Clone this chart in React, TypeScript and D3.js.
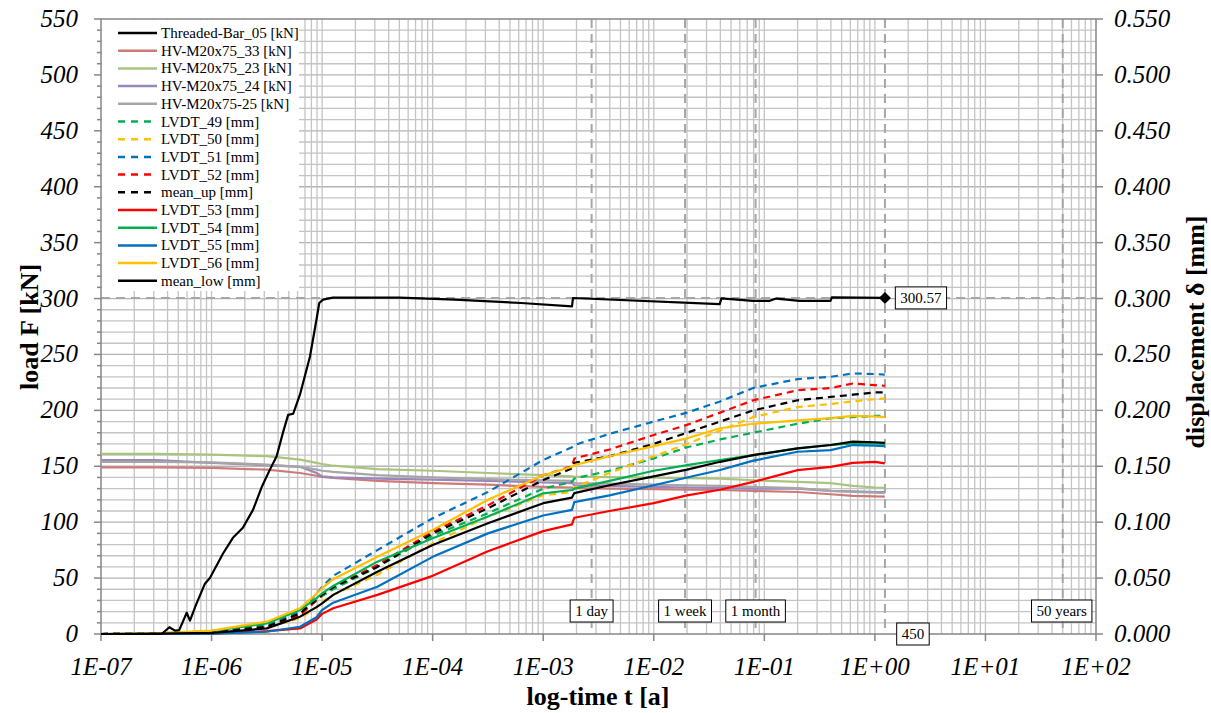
import React, { useEffect, useRef } from 'react'
import * as d3 from 'd3'

const W = 1211
const H = 713
const margin = { top: 19, right: 115, bottom: 79, left: 101 }
const FONT = "'Liberation Serif', 'Times New Roman', Times, 'DejaVu Serif', serif"

// shared time grid [a]
const T = [1e-7, 3.16e-7, 1e-6, 3.16e-6, 6.31e-6, 8.91e-6, 1e-5, 1.26e-5, 3.16e-5, 1e-4, 3.16e-4, 1e-3,
  1.82e-3, 1.91e-3, 3.98e-3, 1e-2, 2e-2, 3.98e-2, 7.94e-2, 0.2, 0.398, 0.631, 1.0, 1.23]

// load of threaded bar [kN]
const BAR_T = [1e-7, 3.54e-7, 4.15e-7, 4.67e-7, 5.1e-7, 5.96e-7, 6.38e-7, 7.23e-7, 8.71e-7, 9.66e-7, 1.27e-6,
  1.56e-6, 1.92e-6, 2.37e-6, 2.83e-6, 3.37e-6, 3.88e-6, 4.45e-6, 4.93e-6, 5.48e-6, 6.3e-6, 7.76e-6, 8.89e-6,
  9.42e-6, 1.02e-5, 1.25e-5, 5.0e-5, 1.58e-4, 6.3e-4, 1.82e-3, 1.86e-3, 0.0395, 0.0409, 0.0785, 0.112, 0.128,
  0.209, 0.398, 0.407, 1.23]
const BAR_F = [0, 0, 6, 3, 3.5, 19, 12, 26, 45, 50, 72, 86, 95, 111, 131, 147, 159, 181, 196, 197, 214, 248, 281,
  296, 299, 300.8, 300.8, 299, 296, 293, 300.5, 295, 300.2, 298, 298, 300, 298, 298, 301, 300.57]

// bolt loads [kN]
const HV_33 = [149, 149, 148.5, 147, 144, 141.5, 140.5, 139.5, 137, 135, 133.5, 131.5, 131, 130.5, 130, 129.5, 129, 128.8, 128, 127, 125, 123.5, 123, 122.8]
const HV_23 = [161, 161, 160.5, 159, 156, 153, 152, 150.5, 147.5, 146, 144, 142, 141, 140.8, 140.3, 139.8, 139.4, 139, 137.5, 136, 135, 132.5, 131, 130.8]
const HV_24 = [155.5, 155.5, 153, 151, 149.5, 144, 141, 140, 139, 138, 137, 135.5, 135, 133, 132.5, 131.5, 131, 130.5, 130, 130, 128, 127.5, 127, 127]
const HV_25 = [154, 154, 153.5, 151.5, 149.5, 147, 146, 145, 142, 140, 138.5, 137.5, 137, 135, 134.5, 133.5, 133, 132.5, 131.5, 130.5, 128, 127, 126.5, 126]

// displacements [mm]
const LVDT_49 = [0, 0.0003, 0.002, 0.008, 0.018, 0.030, 0.034, 0.040, 0.060, 0.088, 0.108, 0.130, 0.136, 0.139, 0.146, 0.157, 0.167, 0.174, 0.180, 0.188, 0.193, 0.194, 0.195, 0.195]
const LVDT_50 = [0, 0.0003, 0.0015, 0.006, 0.014, 0.024, 0.029, 0.035, 0.053, 0.081, 0.105, 0.124, 0.127, 0.131, 0.144, 0.159, 0.170, 0.182, 0.194, 0.203, 0.2057, 0.208, 0.210, 0.2107]
const LVDT_51 = [0, 0.0005, 0.002, 0.009, 0.020, 0.036, 0.042, 0.052, 0.075, 0.1035, 0.127, 0.1556, 0.167, 0.169, 0.179, 0.190, 0.198, 0.208, 0.220, 0.228, 0.230, 0.233, 0.2325, 0.232]
const LVDT_52 = [0, 0.0003, 0.0015, 0.006, 0.017, 0.030, 0.035, 0.042, 0.0617, 0.0915, 0.115, 0.142, 0.150, 0.157, 0.165, 0.178, 0.187, 0.198, 0.209, 0.218, 0.220, 0.224, 0.2225, 0.222]
const MEAN_UP = [0, 0.0003, 0.0015, 0.0065, 0.0185, 0.031, 0.035, 0.042, 0.060, 0.090, 0.1124, 0.1377, 0.148, 0.153, 0.159, 0.170, 0.180, 0.190, 0.200, 0.209, 0.212, 0.214, 0.216, 0.216]
const LVDT_53 = [0, 0, 0.0003, 0.0025, 0.005, 0.013, 0.018, 0.023, 0.035, 0.052, 0.074, 0.092, 0.098, 0.104, 0.110, 0.117, 0.124, 0.129, 0.136, 0.1465, 0.1495, 0.153, 0.154, 0.1526]
const LVDT_54 = [0, 0.0003, 0.0025, 0.0095, 0.0215, 0.032, 0.0364, 0.043, 0.0647, 0.0856, 0.105, 0.1258, 0.1288, 0.130, 0.137, 0.146, 0.151, 0.1556, 0.160, 0.166, 0.169, 0.1705, 0.1705, 0.170]
const LVDT_55 = [0, 0, 0.0003, 0.002, 0.0065, 0.015, 0.0215, 0.028, 0.0423, 0.069, 0.090, 0.106, 0.111, 0.118, 0.124, 0.133, 0.140, 0.1467, 0.155, 0.163, 0.1645, 0.169, 0.1685, 0.168]
const LVDT_56 = [0, 0.0005, 0.003, 0.011, 0.023, 0.036, 0.041, 0.049, 0.069, 0.093, 0.120, 0.142, 0.1496, 0.151, 0.159, 0.168, 0.175, 0.184, 0.188, 0.191, 0.193, 0.195, 0.1945, 0.194]
const MEAN_LOW = [0, 0.0003, 0.001, 0.005, 0.0155, 0.024, 0.0274, 0.035, 0.0557, 0.0796, 0.099, 0.117, 0.122, 0.126, 0.133, 0.141, 0.147, 0.154, 0.160, 0.166, 0.169, 0.172, 0.1715, 0.171]

const X_TICKS = [1e-7, 1e-6, 1e-5, 1e-4, 1e-3, 1e-2, 1e-1, 1, 10, 100]
const X_LABELS = ['1E-07', '1E-06', '1E-05', '1E-04', '1E-03', '1E-02', '1E-01', '1E+00', '1E+01', '1E+02']
const Y_TICKS = [0, 50, 100, 150, 200, 250, 300, 350, 400, 450, 500, 550]
const Y2_TICKS = [0, 0.05, 0.1, 0.15, 0.2, 0.25, 0.3, 0.35, 0.4, 0.45, 0.5, 0.55]

// time marks [a]
const MARKS = [
  { t: 1 / 365, label: '1 day' },
  { t: 7 / 365, label: '1 week' },
  { t: 1 / 12, label: '1 month' },
  { t: 450 / 365, label: '450' },
  { t: 50, label: '50 years' },
]
const F_END = 300.57

const SERIES = [
  { name: 'Threaded-Bar_05 [kN]', color: '#000000', dash: false, axis: 'F', t: BAR_T, v: BAR_F },
  { name: 'HV-M20x75_33 [kN]', color: '#cd7b79', dash: false, axis: 'F', t: T, v: HV_33 },
  { name: 'HV-M20x75_23 [kN]', color: '#a9c47e', dash: false, axis: 'F', t: T, v: HV_23 },
  { name: 'HV-M20x75_24 [kN]', color: '#9987bc', dash: false, axis: 'F', t: T, v: HV_24 },
  { name: 'HV-M20x75-25 [kN]', color: '#a6a6a6', dash: false, axis: 'F', t: T, v: HV_25 },
  { name: 'LVDT_49 [mm]', color: '#00b050', dash: true, axis: 'd', t: T, v: LVDT_49 },
  { name: 'LVDT_50 [mm]', color: '#ffc000', dash: true, axis: 'd', t: T, v: LVDT_50 },
  { name: 'LVDT_51 [mm]', color: '#0070c0', dash: true, axis: 'd', t: T, v: LVDT_51 },
  { name: 'LVDT_52 [mm]', color: '#ff0000', dash: true, axis: 'd', t: T, v: LVDT_52 },
  { name: 'mean_up [mm]', color: '#000000', dash: true, axis: 'd', t: T, v: MEAN_UP },
  { name: 'LVDT_53 [mm]', color: '#ff0000', dash: false, axis: 'd', t: T, v: LVDT_53 },
  { name: 'LVDT_54 [mm]', color: '#00b050', dash: false, axis: 'd', t: T, v: LVDT_54 },
  { name: 'LVDT_55 [mm]', color: '#0070c0', dash: false, axis: 'd', t: T, v: LVDT_55 },
  { name: 'LVDT_56 [mm]', color: '#ffc000', dash: false, axis: 'd', t: T, v: LVDT_56 },
  { name: 'mean_low [mm]', color: '#000000', dash: false, axis: 'd', t: T, v: MEAN_LOW },
]

export default function App() {
  const ref = useRef<SVGSVGElement>(null)

  useEffect(() => {
    const svg = d3.select(ref.current)
    svg.selectAll('*').remove()

    const x = d3.scaleLog().domain([1e-7, 100]).range([margin.left, W - margin.right])
    const y = d3.scaleLinear().domain([0, 550]).range([H - margin.bottom, margin.top])
    const y2 = d3.scaleLinear().domain([0, 0.55]).range([H - margin.bottom, margin.top])
    const [x0, x1] = x.range()
    const [yb, yt] = y.range()

    const grid = svg.append('g')
    // horizontal grid every 10 kN
    grid.selectAll('.hg').data(d3.range(10, 550, 10)).enter().append('line')
      .attr('x1', x0).attr('x2', x1).attr('y1', d => y(d)).attr('y2', d => y(d))
      .attr('stroke', d => d % 50 === 0 ? '#b4b4b4' : '#c4c4c4').attr('stroke-width', 1.3)
    // vertical log grid
    const vticks: number[] = []
    for (let e = -7; e < 2; e++) for (let k = 1; k <= 9; k++) vticks.push(k * Math.pow(10, e))
    grid.selectAll('.vg').data(vticks.filter(d => d > 1e-7)).enter().append('line')
      .attr('x1', d => x(d)).attr('x2', d => x(d)).attr('y1', yt).attr('y2', yb)
      .attr('stroke', '#c4c4c4').attr('stroke-width', 1.3)

    // dashed reference lines
    svg.append('g').selectAll('line').data(MARKS).enter().append('line')
      .attr('x1', d => x(d.t)).attr('x2', d => x(d.t)).attr('y1', yt).attr('y2', yb)
      .attr('stroke', '#a6a6a6').attr('stroke-width', 2).attr('stroke-dasharray', '9,6')
    svg.append('line')
      .attr('x1', x0).attr('x2', x1).attr('y1', y(F_END)).attr('y2', y(F_END))
      .attr('stroke', '#a6a6a6').attr('stroke-width', 2).attr('stroke-dasharray', '9,6')

    // frame and axes
    const axisColor = '#868686'
    const frame = svg.append('g').attr('stroke', axisColor).attr('stroke-width', 1.5)
    frame.append('line').attr('x1', x0).attr('x2', x0).attr('y1', yt).attr('y2', yb)
    frame.append('line').attr('x1', x1).attr('x2', x1).attr('y1', yt).attr('y2', yb)
    frame.append('line').attr('x1', x0).attr('x2', x1).attr('y1', yt).attr('y2', yt)
    frame.append('line').attr('x1', x0).attr('x2', x1).attr('y1', yb).attr('y2', yb)
    frame.selectAll('.lt').data(d3.range(0, 551, 10)).enter().append('line')
      .attr('x1', d => d % 50 === 0 ? x0 - 7 : x0 - 4).attr('x2', x0)
      .attr('y1', d => y(d)).attr('y2', d => y(d))
    frame.selectAll('.rt').data(Y2_TICKS).enter().append('line')
      .attr('x1', x1).attr('x2', x1 + 7).attr('y1', d => y2(d)).attr('y2', d => y2(d))
    frame.selectAll('.bt').data(X_TICKS).enter().append('line')
      .attr('x1', d => x(d)).attr('x2', d => x(d)).attr('y1', yb).attr('y2', yb + 7)

    const tickFont = (s: any) => s.style('font-family', FONT).style('font-style', 'italic').style('font-size', '25px').attr('fill', '#000')
    svg.append('g').selectAll('text').data(Y_TICKS).enter().append('text')
      .attr('x', 78).attr('y', d => y(d) + 8).attr('text-anchor', 'end').text(d => d).call(tickFont)
    svg.append('g').selectAll('text').data(Y2_TICKS).enter().append('text')
      .attr('x', 1114).attr('y', d => y2(d) + 8).attr('text-anchor', 'start').text(d => d3.format('.3f')(d)).call(tickFont)
    svg.append('g').selectAll('text').data(X_TICKS).enter().append('text')
      .attr('x', d => x(d)).attr('y', 675).attr('text-anchor', 'middle').text((d, i) => X_LABELS[i]).call(tickFont)

    const titleFont = (s: any) => s.style('font-family', FONT).style('font-weight', 'bold').style('font-size', '26px').attr('fill', '#000')
    svg.append('text').attr('transform', `translate(38, 327) rotate(-90)`).attr('text-anchor', 'middle')
      .text('load F [kN]').call(titleFont)
    svg.append('text').attr('transform', `translate(1204, 332) rotate(-90)`).attr('text-anchor', 'middle')
      .text('displacement δ [mm]').call(titleFont)
    svg.append('text').attr('x', 598).attr('y', 705).attr('text-anchor', 'middle')
      .text('log-time t [a]').call(titleFont)

    // data lines
    const lines = svg.append('g')
    const drawOrder = [1, 2, 3, 4, 5, 6, 7, 8, 9, 10, 11, 12, 13, 0, 14]
    drawOrder.forEach(i => {
      const s = SERIES[i]
      const ys = s.axis === 'F' ? y : y2
      const line = d3.line<number>().x((d, j) => x(s.t[j])).y(d => ys(d))
      lines.append('path').attr('d', line(s.v))
        .attr('fill', 'none').attr('stroke', s.color).attr('stroke-width', 2.2)
        .attr('stroke-linejoin', 'round')
        .attr('stroke-dasharray', s.dash ? '7,5' : null)
    })

    // end marker (rotated square)
    const mx = x(450 / 365)
    const my = y(F_END)
    svg.append('path').attr('d', `M${mx},${my - 6}L${mx + 6},${my}L${mx},${my + 6}L${mx - 6},${my}Z`).attr('fill', '#000')

    // annotation boxes
    const boxes = [
      { cx: x(MARKS[0].t), cy: 611, text: MARKS[0].label },
      { cx: x(MARKS[1].t), cy: 611, text: MARKS[1].label },
      { cx: x(MARKS[2].t), cy: 611, text: MARKS[2].label },
      { cx: x(MARKS[3].t) + 28, cy: 634, text: MARKS[3].label },
      { cx: x(MARKS[4].t) - 1, cy: 611, text: MARKS[4].label },
      { cx: mx + 36, cy: my, text: String(F_END) },
    ]
    const bg = svg.append('g')
    boxes.forEach(b => {
      const g = bg.append('g')
      const t = g.append('text').attr('x', b.cx).attr('y', b.cy + 5).attr('text-anchor', 'middle')
        .style('font-family', FONT).style('font-size', '15px').attr('fill', '#000').text(b.text)
      const w = (t.node() as SVGTextElement).getComputedTextLength() + 10
      g.insert('rect', 'text').attr('x', b.cx - w / 2).attr('y', b.cy - 11).attr('width', w).attr('height', 22)
        .attr('fill', '#fff').attr('stroke', '#000').attr('stroke-width', 1)
    })

    // legend
    const lg = svg.append('g')
    lg.append('rect').attr('x', x0 + 1).attr('y', yt + 1).attr('width', 197).attr('height', 271).attr('fill', '#fff')
    SERIES.forEach((s, i) => {
      const yy = 33 + i * 17.7
      lg.append('line').attr('x1', 118).attr('x2', 157).attr('y1', yy).attr('y2', yy)
        .attr('stroke', s.color).attr('stroke-width', 2.5).attr('stroke-dasharray', s.dash ? '7,6' : null)
      lg.append('text').attr('x', 161).attr('y', yy + 5).style('font-family', FONT).style('font-size', '15px')
        .attr('fill', '#000').text(s.name)
    })
  }, [])

  return (
    <div style={{ position: 'absolute', left: 0, top: 0 }}>
      <svg ref={ref} width={W} height={H} style={{ display: 'block', background: '#fff' }} />
    </div>
  )
}
